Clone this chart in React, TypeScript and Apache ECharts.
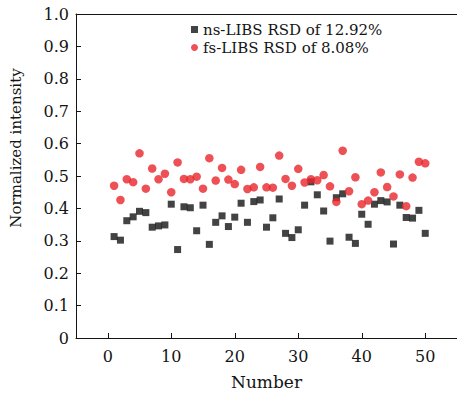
import React, { useEffect, useRef } from "react";
import * as echarts from "echarts";

const sampleNumbers = Array.from({ length: 50 }, (_, i) => i + 1);

const nsValues = [
  0.313, 0.302, 0.362, 0.374, 0.391, 0.387, 0.342, 0.346, 0.349, 0.413,
  0.273, 0.405, 0.402, 0.331, 0.41, 0.289, 0.357, 0.377, 0.344, 0.373,
  0.416, 0.357, 0.421, 0.426, 0.342, 0.371, 0.429, 0.323, 0.31, 0.334,
  0.41, 0.482, 0.442, 0.392, 0.299, 0.433, 0.445, 0.311, 0.292, 0.382,
  0.351, 0.413, 0.424, 0.42, 0.29, 0.41, 0.372, 0.37, 0.394, 0.323,
];

const fsValues = [
  0.47, 0.426, 0.49, 0.481, 0.57, 0.461, 0.523, 0.49, 0.507, 0.45,
  0.542, 0.491, 0.49, 0.498, 0.461, 0.555, 0.486, 0.525, 0.489, 0.475,
  0.519, 0.46, 0.465, 0.528, 0.465, 0.464, 0.563, 0.491, 0.47, 0.522,
  0.48, 0.49, 0.487, 0.503, 0.468, 0.42, 0.578, 0.453, 0.496, 0.413,
  0.424, 0.45, 0.511, 0.466, 0.437, 0.505, 0.407, 0.495, 0.544, 0.539,
];

const xTickValues = [0, 10, 20, 30, 40, 50];
const seriesNames = ["ns-LIBS RSD of 12.92%", "fs-LIBS RSD of 8.08%"];

const FONT = "DejaVu Serif";
const INK = "#141414";

export default function App() {
  const ref = useRef<HTMLDivElement>(null);

  useEffect(() => {
    if (!ref.current) return;
    const chart = echarts.init(ref.current, null, { renderer: "svg" });
    const toPairs = (vals: number[]) => vals.map((v, i) => [sampleNumbers[i], v]);
    chart.setOption({
      animation: false,
      textStyle: { fontFamily: FONT, color: INK },
      grid: { left: 69, top: 14, width: 389, bottom: 57, containLabel: false },
      legend: {
        orient: "vertical",
        left: 186,
        top: 17,
        itemWidth: 7,
        itemHeight: 7,
        itemGap: 3,
        textStyle: { fontFamily: FONT, fontSize: 15, color: INK, lineHeight: 15 },
        data: [
          { name: seriesNames[0], icon: "rect" },
          { name: seriesNames[1], icon: "circle" },
        ],
      },
      xAxis: [
        {
          type: "value",
          min: -5,
          max: 55,
          name: "Number",
          nameLocation: "middle",
          nameGap: 35,
          nameTextStyle: { fontFamily: FONT, fontSize: 17, color: INK },
          axisLine: { show: true, onZero: false, lineStyle: { color: INK, width: 1 } },
          axisTick: {
            show: true,
            inside: true,
            length: 5,
            customValues: xTickValues,
            lineStyle: { color: INK },
          },
          axisLabel: {
            customValues: xTickValues,
            fontFamily: FONT,
            fontSize: 16,
            color: INK,
            margin: 10,
          },
          splitLine: { show: false },
        },
        {
          type: "value",
          position: "top",
          min: -5,
          max: 55,
          axisLine: { show: true, onZero: false, lineStyle: { color: INK, width: 1 } },
          axisTick: { show: false },
          axisLabel: { show: false },
          splitLine: { show: false },
        },
      ],
      yAxis: {
        type: "value",
        min: 0,
        max: 1,
        interval: 0.1,
        name: "Normalized intensity",
        nameLocation: "middle",
        nameGap: 53,
        nameTextStyle: { fontFamily: FONT, fontSize: 15, color: INK, padding: [0, 0, 0, 56] },
        axisLine: { show: true, onZero: false, lineStyle: { color: INK, width: 1 } },
        axisTick: { show: true, inside: true, length: 5, lineStyle: { color: INK } },
        axisLabel: {
          fontFamily: FONT,
          fontSize: 16,
          color: INK,
          margin: 7,
          formatter: (v: number) => (v === 0 ? "0" : v.toFixed(1)),
        },
        splitLine: { show: false },
      },
      series: [
        {
          name: seriesNames[0],
          type: "scatter",
          symbol: "rect",
          symbolSize: 7,
          itemStyle: { color: INK },
          data: toPairs(nsValues),
        },
        {
          name: seriesNames[1],
          type: "scatter",
          symbol: "circle",
          symbolSize: 8.5,
          itemStyle: { color: "#e8262b" },
          data: toPairs(fsValues),
        },
      ],
    });
    return () => chart.dispose();
  }, []);

  return <div ref={ref} style={{ width: 457, height: 395, position: "absolute", left: 0, top: 0 }} />;
}
